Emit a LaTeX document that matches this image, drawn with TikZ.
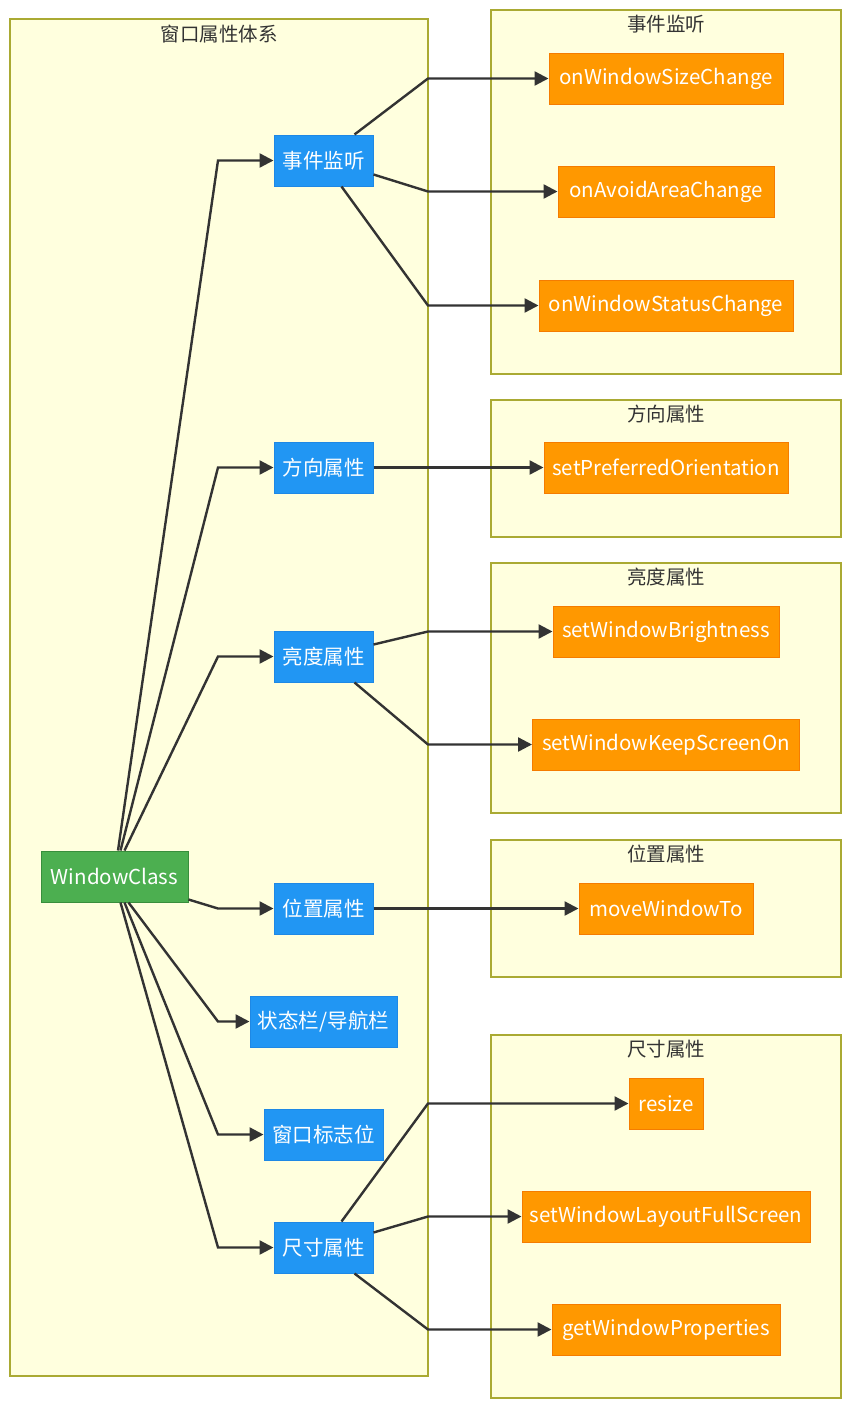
\documentclass[tikz,border=0pt]{standalone}
\usepackage{fontspec}
\setmainfont{Noto Sans CJK SC}
\usetikzlibrary{arrows.meta,positioning,calc}
\definecolor{clfill}{HTML}{FFFFDE}
\definecolor{clborder}{HTML}{AAAA33}
\definecolor{bluefill}{HTML}{2196F3}
\definecolor{blueborder}{HTML}{1E88E5}
\definecolor{greenfill}{HTML}{4CAF50}
\definecolor{greenborder}{HTML}{388E3C}
\definecolor{orfill}{HTML}{FF9800}
\definecolor{orborder}{HTML}{F57C00}
\definecolor{edgecol}{HTML}{333333}
\definecolor{titlecol}{HTML}{333333}
\tikzset{
  x=1pt,y=-1pt,
  cluster/.style={draw=clborder,fill=clfill,line width=1.2pt},
  cltitle/.style={text=titlecol,font=\fontsize{19.5}{22}\selectfont,inner sep=0pt},
  base/.style={rectangle,inner sep=0pt,minimum height=51pt,text=white,font=\fontsize{20.5}{24}\selectfont,line width=1pt},
  bluenode/.style={base,fill=bluefill,draw=blueborder},
  greennode/.style={base,fill=greenfill,draw=greenborder},
  ornode/.style={base,fill=orfill,draw=orborder},
  edge/.style={draw=edgecol,line width=2.4pt,-{Triangle[length=14pt,width=14pt]}},
}
\begin{document}
\begin{tikzpicture}
\useasboundingbox (0,0) rectangle (851,1408);
\fill[white] (0,0) rectangle (851,1408);
% clusters
\draw[cluster] (10,19) rectangle (428,1376);
\node[cltitle] (t0) at (219,34) {窗口属性体系};
\draw[cluster] (491,10) rectangle (841,374);
\node[cltitle] (t1) at (666,24) {事件监听};
\draw[cluster] (491,400) rectangle (841,537);
\node[cltitle] (t2) at (666,414) {方向属性};
\draw[cluster] (491,563) rectangle (841,813);
\node[cltitle] (t3) at (666,577) {亮度属性};
\draw[cluster] (491,840) rectangle (841,977);
\node[cltitle] (t4) at (666,854) {位置属性};
\draw[cluster] (491,1035) rectangle (841,1398);
\node[cltitle] (t5) at (666,1049) {尺寸属性};

\coordinate (lx) at (218,0);
\coordinate (rx) at (428,0);

% nodes
\node[greennode,minimum width=147pt] (wc) at (114.5,876.5) {WindowClass};
\node[bluenode,minimum width=99pt] (evt) at (323.5,160.5) {事件监听};
\node[bluenode,minimum width=99pt] (dir) at (323.5,467.5) {方向属性};
\node[bluenode,minimum width=99pt] (bri) at (323.5,656.5) {亮度属性};
\node[bluenode,minimum width=99pt] (pos) at (323.5,908.5) {位置属性};
\node[bluenode,minimum width=147pt] (bar) at (323.5,1021.5) {状态栏/导航栏};
\node[bluenode,minimum width=119pt] (flag) at (323.5,1134.5) {窗口标志位};
\node[bluenode,minimum width=99pt] (size) at (323.5,1247.5) {尺寸属性};

\node[ornode,minimum width=234pt] (o1) at (666,78.5) {onWindowSizeChange};
\node[ornode,minimum width=216pt] (o2) at (666,191.5) {onAvoidAreaChange};
\node[ornode,minimum width=254pt] (o3) at (666,305.5) {onWindowStatusChange};
\node[ornode,minimum width=244pt] (o4) at (666,467.5) {setPreferredOrientation};
\node[ornode,minimum width=226pt] (o5) at (666,631.5) {setWindowBrightness};
\node[ornode,minimum width=267pt] (o6) at (666,744.5) {setWindowKeepScreenOn};
\node[ornode,minimum width=174pt] (o7) at (666,908.5) {moveWindowTo};
\node[ornode,minimum width=74pt] (o8) at (666,1103.5) {resize};
\node[ornode,minimum width=288pt] (o9) at (666,1216.5) {setWindowLayoutFullScreen};
\node[ornode,minimum width=228pt] (o10) at (666,1329.5) {getWindowProperties};

% edges from WindowClass
\draw[edge] ([xshift=3.5pt]wc.north) -- (lx |- evt.west) -- (evt.west);
\draw[edge] ([xshift=6pt]wc.north) -- (lx |- dir.west) -- (dir.west);
\draw[edge] ([xshift=10pt]wc.north) -- (lx |- bri.west) -- (bri.west);
\draw[edge] ([yshift=3pt]wc.south east) -- (lx |- pos.west) -- (pos.west);
\draw[edge] ([xshift=14pt]wc.south) -- (lx |- bar.west) -- (bar.west);
\draw[edge] ([xshift=10pt]wc.south) -- (lx |- flag.west) -- (flag.west);
\draw[edge] ([xshift=6pt]wc.south) -- (lx |- size.west) -- (size.west);

% edges to methods
\draw[edge] ([xshift=81pt]evt.north west) -- (rx |- o1.west) -- (o1.west);
\draw[edge] ([yshift=-40pt]evt.north east) -- (rx |- o2.west) -- (o2.west);
\draw[edge] ([xshift=68pt]evt.south west) -- (rx |- o3.west) -- (o3.west);
\draw[edge] (dir.east) -- (o4.west);
\draw[edge] ([yshift=-14pt]bri.north east) -- (rx |- o5.west) -- (o5.west);
\draw[edge] ([xshift=81pt]bri.south west) -- (rx |- o6.west) -- (o6.west);
\draw[edge] (pos.east) -- (o7.west);
\draw[edge] ([xshift=68pt]size.north west) -- (rx |- o8.west) -- (o8.west);
\draw[edge] ([yshift=-11pt]size.north east) -- (rx |- o9.west) -- (o9.west);
\draw[edge] ([xshift=81pt]size.south west) -- (rx |- o10.west) -- (o10.west);
\end{tikzpicture}
\end{document}
